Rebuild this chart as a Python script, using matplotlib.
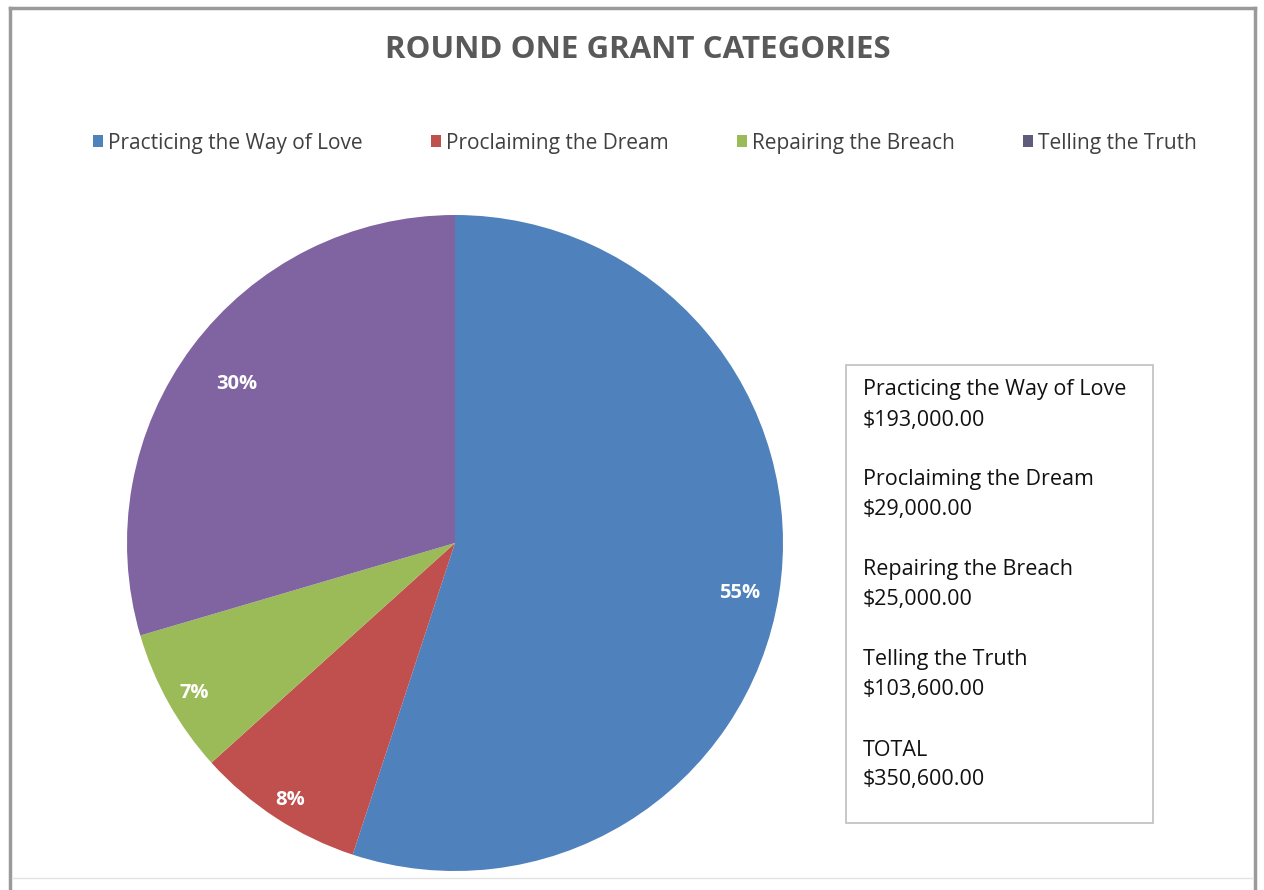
import matplotlib
matplotlib.use("Agg")
import numpy as np
import matplotlib.pyplot as plt
from matplotlib.patches import Patch, Rectangle
from matplotlib.lines import Line2D

# data
categories = ["Practicing the Way of Love", "Proclaiming the Dream",
              "Repairing the Breach", "Telling the Truth"]
amounts = [193000, 29000, 25000, 103600]
colors = ["#4F81BD", "#C0504D", "#9BBB59", "#8064A2"]
legend_colors = ["#4F81BD", "#C0504D", "#9BBB59", "#5F5B7A"]
title = "ROUND ONE GRANT CATEGORIES"

# where each % label sits (fraction of radius), like Excel's best fit
label_dist = [0.88, 0.92, 0.91, 0.83]

W, H = 1264, 890
plt.rcParams['font.family'] = ['Open Sans', 'DejaVu Sans']
fig = plt.figure(figsize=(W / 100, H / 100), dpi=100)
fig.patch.set_facecolor("white")

def fx(x):
    return x / W

def fy(y):
    return 1 - y / H

# outer frame (bottom edge cut off in the reference)
for xs, ys in [((10, 10), (8, 890)), ((10, 1255), (8, 8)), ((1255, 1255), (8, 890))]:
    fig.add_artist(Line2D([fx(x) for x in xs], [fy(y) for y in ys],
                          color="#9a9a9a", lw=2.5))
fig.add_artist(Line2D([fx(12), fx(1253)], [fy(878), fy(878)], color="#e4e4e4", lw=1))

fig.text(fx(638), fy(50), title, ha="center", va="center",
         fontsize=22.5, fontweight="bold", color="#595959")

# pie
cx, cy, r = 455, 543, 328
ax = fig.add_axes([fx(cx - r), fy(cy + r), 2 * r / W, 2 * r / H])
wedges, _, autotexts = ax.pie(amounts, colors=colors, startangle=90, counterclock=False,
                              autopct=lambda p: f"{p:.0f}%", pctdistance=0.86,
                              wedgeprops=dict(linewidth=0))
for w, t, d in zip(wedges, autotexts, label_dist):
    ang = np.deg2rad((w.theta1 + w.theta2) / 2)
    t.set_position((d * np.cos(ang), d * np.sin(ang) - 0.012))
    t.set_color("white")
    t.set_fontweight("bold")
    t.set_fontsize(14.5)
ax.set_aspect("auto")
ax.set_xlim(-1, 1)
ax.set_ylim(-1, 1)
ax.axis("off")

# legend
handles = [Patch(facecolor=c, edgecolor="none") for c in legend_colors]
fig.legend(handles, categories, loc="center", bbox_to_anchor=(fx(645), fy(143)),
           ncol=4, frameon=False, fontsize=15, handlelength=0.5, handleheight=0.5,
           handletextpad=0.25, columnspacing=3.25, labelcolor="#404040")

# summary box
fig.add_artist(Rectangle((fx(846), fy(823)), fx(1153) - fx(846), fy(365) - fy(823),
                         transform=fig.transFigure, facecolor="white",
                         edgecolor="#bfbfbf", lw=1.2))
lines = []
for name, amt in zip(categories, amounts):
    lines.append((name, f"${amt:,.2f}"))
lines.append(("TOTAL", f"${sum(amounts):,.2f}"))
y0 = 390
for i, (name, val) in enumerate(lines):
    y = y0 + i * 90
    fig.text(fx(863), fy(y), name, ha="left", va="center", fontsize=15.5, color="#111111")
    fig.text(fx(863), fy(y + 30), val, ha="left", va="center", fontsize=15.5, color="#111111")

fig.savefig("out.png", dpi=100)
